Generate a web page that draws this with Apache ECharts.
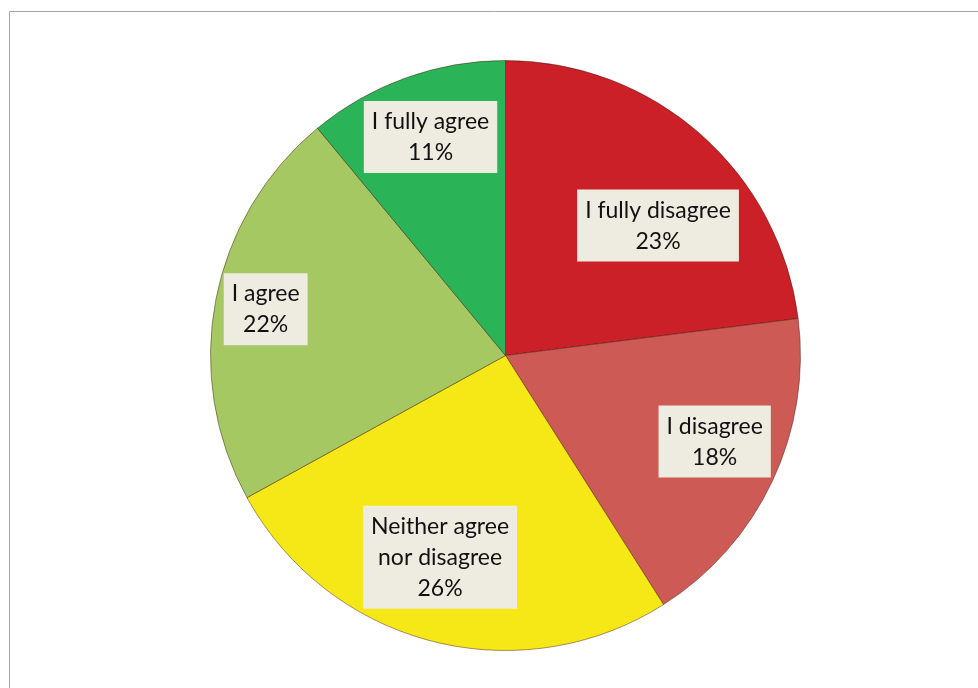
<!DOCTYPE html>
<html>
<head>
<meta charset="utf-8">
<script src="https://cdn.jsdelivr.net/npm/echarts@6/dist/echarts.min.js"></script>
<style>
  html, body { margin: 0; padding: 0; background: #fff; }
  #chart { width: 978px; height: 688px; }
</style>
</head>
<body>
<div id="chart"></div>
<script>
// Survey answers, clockwise from 12 o'clock
const categories = ['I fully disagree', 'I disagree', 'Neither agree\nnor disagree', 'I agree', 'I fully agree'];
const shares = [23, 18, 26, 22, 11];
const sliceColors = ['#CB2027', '#CD5A55', '#F5E816', '#A5C862', '#2BB457'];
// Nudges from the default inside label spot
const labelOffsets = [[53, -17], [73, 22], [-28, 56], [-92, -18], [-24, -77]];

const chart = echarts.init(document.getElementById('chart'));

chart.setOption({
  animation: false,
  backgroundColor: '#ffffff',
  graphic: [{
    type: 'rect',
    shape: { x: 9.5, y: 11.5, width: 1200, height: 1200 },
    style: { fill: 'none', stroke: '#A6A6A6', lineWidth: 1 },
    silent: true
  }],
  series: [{
    type: 'pie',
    center: [505.5, 355.5],
    radius: [0, 295],
    startAngle: 90,
    clockwise: true,
    label: {
      show: true,
      position: 'inside',
      formatter: p => p.name + '\n' + p.value + '%',
      fontFamily: 'Lato, "Open Sans", sans-serif',
      fontSize: 23,
      lineHeight: 31,
      color: '#111111',
      backgroundColor: '#EEEBE1',
      padding: [5, 8, 5, 8],
      align: 'center'
    },
    labelLine: { show: false },
    itemStyle: {
      borderColor: 'rgba(60,20,10,0.45)',
      borderWidth: 1
    },
    emphasis: { disabled: true },
    data: categories.map((name, i) => ({
      name: name,
      value: shares[i],
      itemStyle: { color: sliceColors[i] },
      label: { offset: labelOffsets[i] }
    }))
  }]
});
</script>
</body>
</html>
